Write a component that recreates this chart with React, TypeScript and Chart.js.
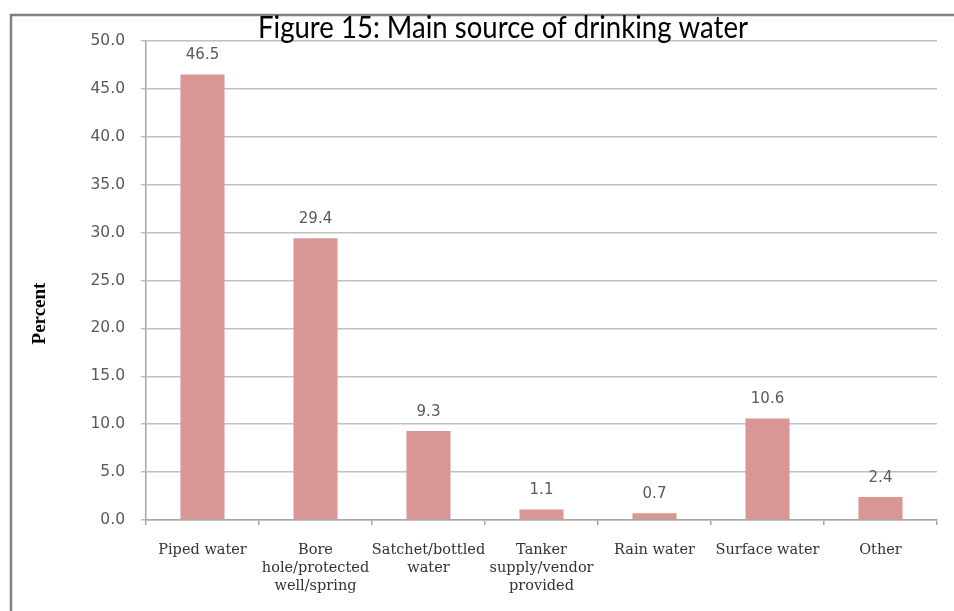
import React, { useEffect, useRef } from "react";
import { Chart, registerables } from "chart.js";

Chart.register(...registerables);

const TITLE = "Figure 15: Main source of drinking water";
const Y_TITLE = "Percent";
const categories: string[][] = [
  ["Piped water"],
  ["Bore", "hole/protected", "well/spring"],
  ["Satchet/bottled", "water"],
  ["Tanker", "supply/vendor", "provided"],
  ["Rain water"],
  ["Surface water"],
  ["Other"],
];
const percents: number[] = [46.5, 29.4, 9.3, 1.1, 0.7, 10.6, 2.4];

const framePlugin = {
  id: "frame",
  beforeDraw(chart: any) {
    const { ctx, width, height } = chart;
    ctx.save();
    ctx.fillStyle = "#ffffff";
    ctx.fillRect(0, 0, width, height);
    ctx.strokeStyle = "#808080";
    ctx.lineWidth = 2.5;
    ctx.beginPath();
    ctx.moveTo(11, height);
    ctx.lineTo(11, 15);
    ctx.lineTo(width, 15);
    ctx.stroke();
    ctx.restore();
  },
};

const textPlugin = {
  id: "texts",
  afterDatasetsDraw(chart: any) {
    const { ctx } = chart;
    const meta = chart.getDatasetMeta(0);
    ctx.save();
    ctx.font = "15px 'DejaVu Sans'";
    ctx.fillStyle = "#595959";
    ctx.textAlign = "center";
    ctx.textBaseline = "middle";
    meta.data.forEach((bar: any, i: number) => {
      ctx.fillText(percents[i].toFixed(1), bar.x, bar.y - 19);
    });
    ctx.restore();
  },
  afterDraw(chart: any) {
    const { ctx, chartArea } = chart;
    ctx.save();
    // title
    ctx.font = "31px Lato";
    ctx.fillStyle = "#000000";
    ctx.textBaseline = "alphabetic";
    ctx.textAlign = "left";
    const w = ctx.measureText(TITLE).width;
    const target = 490;
    ctx.translate(258, 38);
    ctx.scale(target / w, 1);
    ctx.fillText(TITLE, 0, 0);
    ctx.restore();
    // y title
    ctx.save();
    ctx.font = "bold 19px 'Liberation Serif'";
    ctx.fillStyle = "#000000";
    ctx.textAlign = "center";
    ctx.textBaseline = "middle";
    ctx.translate(40, (chartArea.top + chartArea.bottom) / 2 + 33);
    ctx.rotate(-Math.PI / 2);
    ctx.fillText(Y_TITLE, 0, 0);
    ctx.restore();
  },
};

export default function App() {
  const ref = useRef<HTMLCanvasElement | null>(null);
  useEffect(() => {
    if (!ref.current) return;
    const chart = new Chart(ref.current, {
      type: "bar",
      data: {
        labels: categories,
        datasets: [
          {
            data: percents,
            backgroundColor: "#D99694",
            borderWidth: 0,
            barPercentage: 0.39,
            categoryPercentage: 1,
          },
        ],
      },
      options: {
        animation: false,
        responsive: false,
        maintainAspectRatio: false,
        layout: { padding: { top: 41, right: 17, left: 0, bottom: 0 } },
        plugins: {
          legend: { display: false },
          title: { display: false },
          tooltip: { enabled: false },
        },
        scales: {
          x: {
            grid: {
              offset: true,
              drawOnChartArea: false,
              drawTicks: true,
              tickLength: 5,
              color: "#a6a6a6",
              lineWidth: 1.5,
            },
            border: { color: "#a6a6a6", width: 1.5 },
            ticks: {
              autoSkip: false,
              maxRotation: 0,
              padding: 16,
              color: "#333333",
              font: { family: "'DejaVu Serif'", size: 14.5, lineHeight: 1.25 },
            },
            afterFit(scale: any) {
              scale.height = 91;
            },
          },
          y: {
            min: 0,
            max: 50,
            grid: {
              color: "#c0c0c0",
              lineWidth: 1.5,
              tickLength: 5,
            },
            border: { color: "#a6a6a6", width: 1.5 },
            ticks: {
              stepSize: 5,
              padding: 16,
              color: "#595959",
              font: { family: "'DejaVu Sans'", size: 15.5 },
              callback: (v: any) => Number(v).toFixed(1),
            },
            afterFit(scale: any) {
              scale.width = 146;
            },
          },
        },
      },
      plugins: [framePlugin, textPlugin],
    });
    return () => chart.destroy();
  }, []);
  return (
    <div style={{ position: "absolute", left: 0, top: 0, width: 954, height: 611, background: "#fff" }}>
      <canvas ref={ref} width={954} height={611} style={{ display: "block", width: 954, height: 611 }} />
    </div>
  );
}
